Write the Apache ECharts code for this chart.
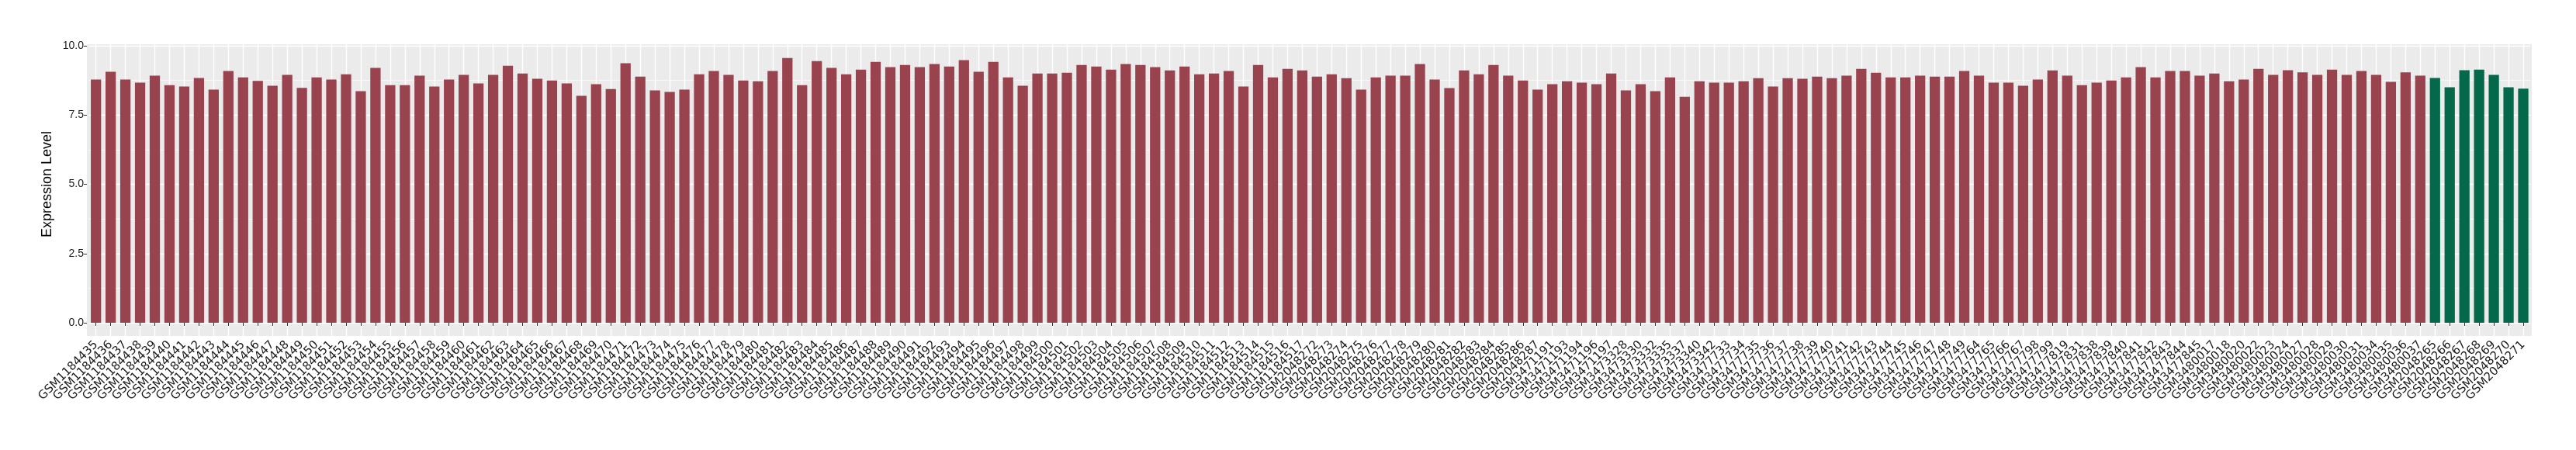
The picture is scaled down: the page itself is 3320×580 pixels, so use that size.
<!DOCTYPE html>
<html>
<head>
<meta charset="utf-8">
<script src="https://cdn.jsdelivr.net/npm/echarts@6/dist/echarts.min.js"></script>
<style>
  html, body { margin: 0; padding: 0; background: #fff; }
  #main { width: 3320px; height: 580px; }
</style>
</head>
<body>
<div id="main"></div>
<script>
// sample ids, in plotting order
var samples = [
  'GSM1184435', 'GSM1184436', 'GSM1184437', 'GSM1184438', 'GSM1184439', 'GSM1184440', 'GSM1184441', 'GSM1184442',
  'GSM1184443', 'GSM1184444', 'GSM1184445', 'GSM1184446', 'GSM1184447', 'GSM1184448', 'GSM1184449', 'GSM1184450',
  'GSM1184451', 'GSM1184452', 'GSM1184453', 'GSM1184454', 'GSM1184455', 'GSM1184456', 'GSM1184457', 'GSM1184458',
  'GSM1184459', 'GSM1184460', 'GSM1184461', 'GSM1184462', 'GSM1184463', 'GSM1184464', 'GSM1184465', 'GSM1184466',
  'GSM1184467', 'GSM1184468', 'GSM1184469', 'GSM1184470', 'GSM1184471', 'GSM1184472', 'GSM1184473', 'GSM1184474',
  'GSM1184475', 'GSM1184476', 'GSM1184477', 'GSM1184478', 'GSM1184479', 'GSM1184480', 'GSM1184481', 'GSM1184482',
  'GSM1184483', 'GSM1184484', 'GSM1184485', 'GSM1184486', 'GSM1184487', 'GSM1184488', 'GSM1184489', 'GSM1184490',
  'GSM1184491', 'GSM1184492', 'GSM1184493', 'GSM1184494', 'GSM1184495', 'GSM1184496', 'GSM1184497', 'GSM1184498',
  'GSM1184499', 'GSM1184500', 'GSM1184501', 'GSM1184502', 'GSM1184503', 'GSM1184504', 'GSM1184505', 'GSM1184506',
  'GSM1184507', 'GSM1184508', 'GSM1184509', 'GSM1184510', 'GSM1184511', 'GSM1184512', 'GSM1184513', 'GSM1184514',
  'GSM1184515', 'GSM1184516', 'GSM1184517',
  'GSM2048272', 'GSM2048273', 'GSM2048274', 'GSM2048275', 'GSM2048276', 'GSM2048277', 'GSM2048278', 'GSM2048279',
  'GSM2048280', 'GSM2048281', 'GSM2048282', 'GSM2048283', 'GSM2048284', 'GSM2048285', 'GSM2048286', 'GSM2048287',
  'GSM3471191', 'GSM3471193', 'GSM3471194', 'GSM3471196', 'GSM3471197',
  'GSM3473328', 'GSM3473330', 'GSM3473332', 'GSM3473335', 'GSM3473337', 'GSM3473340', 'GSM3473342',
  'GSM3477733', 'GSM3477734', 'GSM3477735', 'GSM3477736', 'GSM3477737', 'GSM3477738', 'GSM3477739', 'GSM3477740',
  'GSM3477741', 'GSM3477742', 'GSM3477743', 'GSM3477744', 'GSM3477745', 'GSM3477746', 'GSM3477747', 'GSM3477748',
  'GSM3477749', 'GSM3477764', 'GSM3477765', 'GSM3477766', 'GSM3477767', 'GSM3477798', 'GSM3477799', 'GSM3477819',
  'GSM3477831', 'GSM3477838', 'GSM3477839', 'GSM3477840', 'GSM3477841', 'GSM3477842', 'GSM3477843', 'GSM3477844',
  'GSM3477845',
  'GSM3480017', 'GSM3480018', 'GSM3480020', 'GSM3480022', 'GSM3480023', 'GSM3480024', 'GSM3480027', 'GSM3480028',
  'GSM3480029', 'GSM3480030', 'GSM3480031', 'GSM3480034', 'GSM3480035', 'GSM3480036', 'GSM3480037',
  'GSM2048265', 'GSM2048266', 'GSM2048267', 'GSM2048268', 'GSM2048269', 'GSM2048270', 'GSM2048271'
];

// expression level per sample
var expression = [
  8.78, 9.06, 8.78, 8.67, 8.92, 8.58, 8.53, 8.84, 8.42, 9.09, 8.86, 8.73, 8.56, 8.95, 8.48, 8.86,
  8.78, 8.97, 8.36, 9.20, 8.58, 8.58, 8.92, 8.53, 8.78, 8.95, 8.64, 8.95, 9.28, 9.00, 8.81, 8.75,
  8.64, 8.19, 8.61, 8.44, 9.37, 8.89, 8.39, 8.33, 8.42, 8.97, 9.09, 8.95, 8.75, 8.72, 9.09, 9.56,
  8.58, 9.45, 9.20, 8.97, 9.14, 9.42, 9.23, 9.31, 9.23, 9.34, 9.25, 9.48, 9.06, 9.42, 8.86, 8.56,
  9.00, 9.00, 9.03, 9.31, 9.25, 9.14, 9.34, 9.31, 9.23, 9.11, 9.25, 8.97, 9.00, 9.09, 8.53, 9.31,
  8.86, 9.17, 9.11,
  8.89, 8.97, 8.83, 8.42, 8.86, 8.92, 8.92, 9.34, 8.78, 8.47, 9.11, 8.97, 9.31, 8.92, 8.75, 8.42,
  8.61, 8.72, 8.67, 8.61, 9.00,
  8.39, 8.61, 8.36, 8.86, 8.16, 8.72, 8.67,
  8.67, 8.72, 8.83, 8.53, 8.83, 8.81, 8.89, 8.83, 8.92, 9.17, 9.03, 8.86, 8.86, 8.92, 8.89, 8.89,
  9.09, 8.92, 8.67, 8.67, 8.56, 8.78, 9.11, 8.92, 8.58, 8.67, 8.75, 8.86, 9.23, 8.86, 9.09, 9.09,
  8.92,
  9.00, 8.72, 8.78, 9.17, 8.95, 9.12, 9.04, 8.95, 9.14, 8.95, 9.09, 8.95, 8.70, 9.04, 8.92,
  8.84, 8.50, 9.12, 9.14, 8.95, 8.50, 8.45
];

// samples drawn in green
var greenSamples = ['GSM2048265', 'GSM2048266', 'GSM2048267', 'GSM2048268', 'GSM2048269', 'GSM2048270', 'GSM2048271'];

var yTicks = [0, 2.5, 5, 7.5, 10];

var RED = '#99434F';
var GREEN = '#03694A';
var FONT = '"Liberation Sans", Arial, Helvetica, sans-serif';
var LABEL_FONT = '"DejaVu Sans", sans-serif';

var chart = echarts.init(document.getElementById('main'), null, { renderer: 'canvas' });

var n = samples.length;

var option = {
  backgroundColor: '#ffffff',
  animation: false,
  grid: [
    // grey panel
    { left: 112, right: 57, top: 57, bottom: 147, show: true, backgroundColor: '#EBEBEB', borderWidth: 0, z: -2 },
    // vertical white lines through the bar centres
    { left: 114.2, right: 58.5, top: 57, bottom: 147, z: -1 },
    // bars
    { left: 114.2, right: 58.5, top: 59, bottom: 164 }
  ],
  xAxis: [
    { gridIndex: 0, type: 'value', min: 0, max: 1, show: false },
    {
      gridIndex: 1, type: 'value', min: -0.5, max: n - 0.5, interval: 0.5,
      axisLine: { show: false }, axisTick: { show: false }, axisLabel: { show: false },
      splitLine: { show: true, lineStyle: { color: ['rgba(255,255,255,0)', '#ffffff'], width: 1.4 } }
    },
    {
      gridIndex: 2, type: 'category', data: samples, boundaryGap: true, offset: 17,
      axisLine: { show: false },
      axisTick: { show: true, alignWithLabel: true, length: 4, lineStyle: { color: '#333333', width: 1 } },
      axisLabel: {
        interval: 0, rotate: 45, fontSize: 15, color: '#1a1a1a', fontFamily: LABEL_FONT, margin: 9
      },
      splitLine: { show: false }
    }
  ],
  yAxis: [
    { gridIndex: 0, type: 'value', min: 0, max: 1, show: false },
    { gridIndex: 1, type: 'value', min: 0, max: 1, show: false },
    {
      gridIndex: 2, type: 'value', min: yTicks[0], max: yTicks[yTicks.length - 1], interval: 2.5, offset: 2.2,
      name: 'Expression Level', nameLocation: 'middle', nameGap: 37, nameRotate: 90,
      nameTextStyle: { fontSize: 18, color: '#000000', fontFamily: FONT },
      axisLine: { show: false },
      axisTick: { show: true, length: 4, lineStyle: { color: '#333333', width: 1 } },
      axisLabel: {
        fontSize: 14, color: '#1a1a1a', fontFamily: FONT, margin: 4,
        formatter: function (v) { return v.toFixed(1); }
      },
      splitLine: { show: true, lineStyle: { color: '#ffffff', width: 1.4 } },
      minorTick: { show: false, splitNumber: 2 },
      minorSplitLine: { show: true, lineStyle: { color: '#ffffff', width: 0.7 } }
    }
  ],
  series: [
    {
      type: 'bar',
      xAxisIndex: 2,
      yAxisIndex: 2,
      barWidth: '70%',
      data: expression.map(function (v, i) {
        return {
          value: v,
          itemStyle: { color: greenSamples.indexOf(samples[i]) >= 0 ? GREEN : RED }
        };
      })
    }
  ]
};

chart.setOption(option);
</script>
</body>
</html>
